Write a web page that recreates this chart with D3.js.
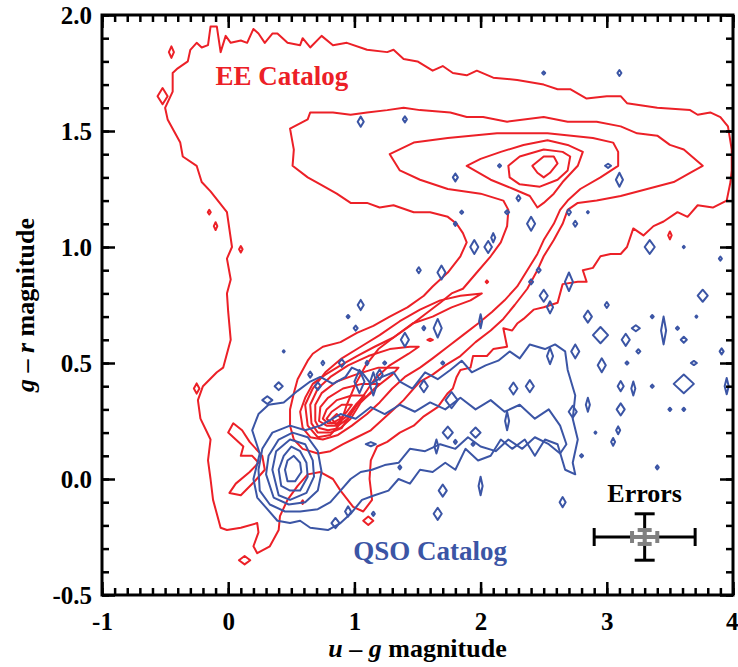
<!DOCTYPE html>
<html>
<head>
<meta charset="utf-8">
<script src="https://cdn.jsdelivr.net/npm/d3@7"></script>
<style>
  body { margin: 0; background: #fff; }
  svg { display: block; }
  text { font-family: "Liberation Serif", "Times New Roman", serif; font-weight: bold; }
</style>
</head>
<body>
<svg id="chart" width="738" height="667"></svg>
<script>
// ---- axes ----
const xDomain = [-1, 4];
const yDomain = [-0.5, 2.0];
const xMajorTicks = [-1, 0, 1, 2, 3, 4];
const yMajorTicks = [-0.5, 0.0, 0.5, 1.0, 1.5, 2.0];
const xTickLabels = ["-1", "0", "1", "2", "3", "4"];
const yTickLabels = ["-0.5", "0.0", "0.5", "1.0", "1.5", "2.0"];
const xMinorStep = 0.1;
const yMinorStep = 0.1;

// ---- EE catalog density contours, outermost to innermost, in (u-g, g-r) ----
const eeLevel1 = [[-0.14,0.00],[-0.16,0.08],[-0.14,0.17],[-0.22,0.26],[-0.24,0.34],[-0.20,0.40],[-0.09,0.46],[-0.04,0.48],[0.02,0.60],[0.00,0.72],[-0.01,0.80],[0.02,0.86],[-0.01,0.95],[0.03,1.00],[-0.01,1.15],[-0.14,1.24],[-0.21,1.28],[-0.25,1.35],[-0.36,1.39],[-0.38,1.45],[-0.48,1.55],[-0.50,1.60],[-0.44,1.67],[-0.44,1.75],[-0.40,1.77],[-0.32,1.80],[-0.30,1.85],[-0.25,1.88],[-0.21,1.86],[-0.16,1.87],[-0.14,1.95],[-0.09,1.95],[-0.06,1.84],[-0.02,1.91],[0.02,1.88],[0.10,1.89],[0.15,1.88],[0.20,1.94],[0.24,1.92],[0.29,1.88],[0.35,1.92],[0.39,1.92],[0.47,1.88],[0.57,1.87],[0.59,1.90],[0.65,1.86],[0.74,1.91],[0.83,1.87],[0.94,1.88],[1.10,1.85],[1.26,1.84],[1.31,1.85],[1.39,1.81],[1.50,1.80],[1.62,1.76],[1.70,1.78],[1.78,1.75],[1.89,1.74],[1.97,1.76],[2.10,1.73],[2.29,1.72],[2.50,1.70],[2.61,1.68],[2.71,1.68],[2.84,1.64],[3.00,1.65],[3.11,1.65],[3.16,1.62],[3.40,1.60],[3.66,1.59],[3.72,1.57],[3.82,1.58],[3.90,1.56],[3.96,1.52],[3.99,1.42],[3.99,1.33],[3.98,1.28],[3.95,1.20],[3.84,1.17],[3.72,1.18],[3.64,1.13],[3.56,1.15],[3.45,1.11],[3.37,1.09],[3.29,1.05],[3.21,1.08],[3.16,1.00],[3.11,0.97],[3.03,0.97],[2.95,0.96],[2.89,0.91],[2.81,0.90],[2.84,0.85],[2.77,0.85],[2.65,0.84],[2.61,0.76],[2.50,0.74],[2.42,0.73],[2.34,0.69],[2.29,0.67],[2.25,0.64],[2.18,0.65],[2.21,0.57],[2.10,0.56],[2.05,0.53],[1.94,0.53],[1.92,0.48],[1.84,0.47],[1.81,0.44],[1.78,0.39],[1.74,0.37],[1.66,0.31],[1.55,0.27],[1.47,0.23],[1.36,0.20],[1.26,0.16],[1.18,0.14],[1.13,0.08],[1.12,0.00],[1.14,-0.09],[1.07,-0.14],[0.99,-0.12],[0.89,-0.05],[0.83,0.00],[0.73,0.03],[0.63,0.02],[0.55,-0.03],[0.47,-0.09],[0.41,-0.16],[0.40,-0.22],[0.33,-0.29],[0.23,-0.32],[0.20,-0.29],[0.24,-0.23],[0.23,-0.19],[0.10,-0.21],[-0.01,-0.22],[-0.06,-0.21],[-0.12,-0.09]];

const eeLevel1b = [[0.04,0.24],[0.00,0.20],[0.06,0.17],[0.12,0.14],[0.10,0.10],[0.19,0.10],[0.24,0.07],[0.17,0.03],[0.06,-0.02],[0.01,-0.06],[0.10,-0.07],[0.21,-0.01],[0.29,0.04],[0.27,0.10],[0.17,0.16],[0.11,0.21]];

const eeLevel2 = [[0.49,1.51],[0.63,1.55],[0.65,1.58],[0.83,1.58],[0.97,1.57],[1.10,1.58],[1.26,1.59],[1.39,1.60],[1.52,1.59],[1.76,1.58],[1.89,1.56],[2.02,1.56],[2.21,1.54],[2.50,1.56],[2.69,1.54],[2.92,1.54],[3.11,1.52],[3.24,1.49],[3.40,1.48],[3.50,1.44],[3.61,1.42],[3.76,1.35],[3.66,1.32],[3.53,1.28],[3.32,1.25],[3.11,1.22],[2.92,1.20],[2.77,1.19],[2.69,1.16],[2.65,1.10],[2.58,1.03],[2.50,0.96],[2.45,0.90],[2.37,0.82],[2.27,0.75],[2.18,0.69],[2.08,0.64],[1.96,0.59],[1.84,0.53],[1.72,0.49],[1.62,0.45],[1.52,0.42],[1.47,0.39],[1.39,0.34],[1.31,0.30],[1.23,0.26],[1.13,0.21],[1.02,0.18],[0.91,0.15],[0.81,0.12],[0.71,0.11],[0.59,0.13],[0.52,0.17],[0.49,0.23],[0.49,0.30],[0.52,0.37],[0.55,0.43],[0.63,0.51],[0.67,0.54],[0.75,0.57],[0.89,0.59],[1.02,0.63],[1.15,0.66],[1.28,0.70],[1.42,0.74],[1.55,0.79],[1.62,0.83],[1.74,0.89],[1.84,0.96],[1.89,1.02],[1.86,1.06],[1.81,1.10],[1.74,1.13],[1.60,1.15],[1.47,1.15],[1.31,1.18],[1.20,1.17],[1.10,1.19],[0.97,1.19],[0.86,1.23],[0.73,1.27],[0.63,1.30],[0.51,1.35],[0.52,1.42]];

const eeLevel3 = [[1.28,1.40],[1.47,1.45],[1.74,1.47],[2.13,1.49],[2.53,1.49],[2.89,1.47],[3.05,1.45],[3.09,1.41],[3.09,1.35],[2.95,1.30],[2.79,1.25],[2.69,1.20],[2.63,1.16],[2.58,1.10],[2.50,1.03],[2.45,0.97],[2.37,0.90],[2.29,0.83],[2.19,0.77],[2.09,0.72],[1.98,0.67],[1.86,0.62],[1.74,0.57],[1.62,0.52],[1.52,0.48],[1.40,0.44],[1.30,0.39],[1.20,0.33],[1.10,0.28],[0.98,0.23],[0.87,0.19],[0.75,0.17],[0.65,0.18],[0.59,0.22],[0.57,0.29],[0.61,0.35],[0.67,0.41],[0.77,0.45],[0.89,0.49],[1.02,0.53],[1.16,0.57],[1.31,0.61],[1.44,0.66],[1.56,0.71],[1.68,0.76],[1.77,0.80],[1.86,0.82],[1.97,0.89],[2.08,0.96],[2.16,1.02],[2.21,1.09],[2.22,1.16],[2.18,1.20],[2.00,1.23],[1.74,1.25],[1.52,1.29],[1.36,1.33]];

const eeLevel4 = [[0.63,0.23],[0.61,0.32],[0.67,0.39],[0.77,0.46],[0.90,0.52],[1.05,0.57],[1.20,0.62],[1.36,0.68],[1.52,0.73],[1.68,0.77],[1.84,0.79],[2.01,0.80],[1.92,0.77],[1.77,0.74],[1.62,0.70],[1.46,0.67],[1.31,0.61],[1.19,0.56],[1.09,0.49],[1.01,0.41],[0.94,0.32],[0.89,0.24],[0.81,0.19],[0.71,0.18]];
const eeLevel4Upper = [[1.89,1.35],[2.00,1.38],[2.16,1.41],[2.34,1.44],[2.53,1.46],[2.69,1.44],[2.81,1.41],[2.77,1.35],[2.65,1.28],[2.58,1.23],[2.50,1.19],[2.45,1.17],[2.39,1.22],[2.26,1.25],[2.08,1.29]];

const eeLevel5 = [[0.66,0.24],[0.65,0.32],[0.71,0.39],[0.81,0.44],[0.95,0.49],[1.11,0.53],[1.28,0.56],[1.44,0.57],[1.51,0.57],[1.43,0.54],[1.28,0.49],[1.16,0.43],[1.06,0.35],[0.98,0.29],[0.90,0.22],[0.81,0.20],[0.71,0.20]];
const eeLevel5Upper = [[2.22,1.35],[2.31,1.39],[2.50,1.42],[2.65,1.41],[2.71,1.39],[2.69,1.33],[2.61,1.29],[2.47,1.26],[2.31,1.27],[2.23,1.30]];

const eeLevel6 = [[0.69,0.25],[0.69,0.32],[0.74,0.37],[0.86,0.42],[1.01,0.45],[1.19,0.48],[1.35,0.48],[1.30,0.45],[1.16,0.39],[1.05,0.33],[0.97,0.26],[0.89,0.22],[0.79,0.21],[0.72,0.22]];
const eeLevel6Upper = [[2.41,1.35],[2.50,1.39],[2.58,1.39],[2.61,1.36],[2.55,1.32],[2.50,1.30],[2.45,1.32]];

const eeLevel7 = [[0.72,0.25],[0.73,0.31],[0.79,0.35],[0.91,0.39],[1.06,0.41],[1.20,0.41],[1.13,0.37],[1.02,0.32],[0.95,0.26],[0.87,0.23],[0.78,0.23]];
const eeLevel8 = [[0.75,0.26],[0.78,0.30],[0.86,0.34],[0.98,0.36],[1.08,0.36],[1.01,0.32],[0.94,0.27],[0.86,0.24],[0.79,0.24]];
const eeLevel9 = [[0.78,0.26],[0.82,0.29],[0.90,0.32],[0.98,0.32],[0.94,0.29],[0.89,0.26],[0.82,0.24]];
const eeLevel10 = [[0.82,0.26],[0.86,0.28],[0.90,0.26],[0.86,0.23]];

// small isolated EE contour islands: centre u-g, centre g-r, half-width, half-height
const eeIslands = [[-0.45,1.84,0.02,0.025],[-0.52,1.65,0.04,0.035],[-0.15,1.15,0.012,0.01],[-0.10,1.09,0.014,0.017],[0.10,0.99,0.014,0.014],[3.50,1.05,0.014,0.017],[2.05,0.85,0.01,0.006],[1.60,0.60,0.022,0.005],[1.11,-0.18,0.04,0.018],[0.59,-0.10,0.01,0.008],[0.13,-0.35,0.045,0.018],[-0.25,0.39,0.022,0.022]];

// ---- QSO catalog density contours ----
const qsoLevel1 = [[0.19,0.21],[0.24,0.28],[0.32,0.32],[0.44,0.33],[0.55,0.38],[0.65,0.42],[0.73,0.44],[0.83,0.41],[0.93,0.44],[0.98,0.48],[1.06,0.46],[1.13,0.41],[1.22,0.44],[1.31,0.46],[1.36,0.42],[1.46,0.39],[1.56,0.46],[1.66,0.43],[1.76,0.47],[1.85,0.51],[1.93,0.46],[2.04,0.49],[2.14,0.51],[2.23,0.55],[2.31,0.52],[2.39,0.58],[2.51,0.56],[2.59,0.58],[2.67,0.55],[2.69,0.47],[2.75,0.36],[2.73,0.26],[2.77,0.17],[2.73,0.07],[2.75,0.02],[2.67,0.04],[2.61,0.15],[2.51,0.17],[2.43,0.10],[2.35,0.17],[2.25,0.13],[2.16,0.17],[2.08,0.10],[1.98,0.08],[1.88,0.13],[1.80,0.04],[1.72,0.07],[1.62,0.03],[1.52,0.04],[1.44,-0.02],[1.35,0.00],[1.27,-0.05],[1.16,-0.07],[1.06,-0.09],[0.97,-0.15],[0.89,-0.19],[0.79,-0.22],[0.65,-0.21],[0.57,-0.18],[0.49,-0.19],[0.39,-0.18],[0.31,-0.13],[0.23,-0.08],[0.20,0.00],[0.25,0.11]];
const qsoLevel2 = [[0.27,0.13],[0.35,0.20],[0.49,0.23],[0.61,0.21],[0.73,0.23],[0.89,0.28],[1.01,0.26],[1.13,0.31],[1.24,0.28],[1.36,0.32],[1.48,0.29],[1.60,0.33],[1.72,0.30],[1.84,0.35],[1.96,0.30],[2.08,0.34],[2.19,0.29],[2.31,0.32],[2.43,0.26],[2.54,0.30],[2.63,0.23],[2.68,0.15],[2.63,0.11],[2.54,0.15],[2.43,0.18],[2.33,0.13],[2.22,0.17],[2.12,0.12],[2.00,0.14],[1.90,0.18],[1.80,0.13],[1.68,0.15],[1.56,0.12],[1.44,0.13],[1.35,0.07],[1.24,0.06],[1.14,0.04],[1.05,0.03],[0.97,0.00],[0.89,-0.05],[0.81,-0.10],[0.71,-0.13],[0.57,-0.14],[0.45,-0.14],[0.33,-0.11],[0.25,-0.05],[0.24,0.04]];
const qsoLevel3 = [[0.30,0.02],[0.32,0.10],[0.40,0.17],[0.51,0.20],[0.63,0.18],[0.71,0.12],[0.74,0.03],[0.71,-0.05],[0.61,-0.10],[0.48,-0.11],[0.36,-0.08]];
const qsoLevel4 = [[0.35,0.04],[0.38,0.12],[0.49,0.17],[0.61,0.15],[0.67,0.08],[0.68,0.01],[0.62,-0.06],[0.49,-0.09],[0.40,-0.07]];
const qsoLevel5 = [[0.40,0.04],[0.44,0.10],[0.50,0.14],[0.57,0.12],[0.62,0.07],[0.63,0.01],[0.57,-0.05],[0.49,-0.05],[0.42,-0.03]];
const qsoLevel6 = [[0.45,0.04],[0.47,0.08],[0.52,0.10],[0.57,0.07],[0.58,0.03],[0.53,-0.01],[0.47,-0.01]];

// small isolated QSO contour islands: centre u-g, centre g-r, half-width, half-height
const qsoIslands = [[2.50,1.75,0.012,0.007],[3.10,1.75,0.016,0.013],[1.05,1.54,0.024,0.022],[1.40,1.55,0.016,0.013],[1.80,1.30,0.02,0.017],[2.15,1.35,0.012,0.007],[3.01,1.35,0.024,0.009],[3.10,1.29,0.028,0.03],[2.30,1.21,0.016,0.013],[1.85,1.15,0.012,0.007],[2.21,1.15,0.016,0.009],[1.80,1.10,0.012,0.009],[2.40,1.10,0.032,0.03],[2.70,1.15,0.016,0.013],[2.85,1.15,0.008,0.005],[2.75,1.10,0.016,0.013],[1.95,1.00,0.032,0.03],[2.06,1.00,0.03,0.026],[2.10,1.04,0.016,0.02],[3.34,1.00,0.04,0.03],[3.61,1.00,0.008,0.005],[3.90,0.95,0.012,0.009],[1.51,0.90,0.016,0.013],[1.69,0.89,0.032,0.03],[2.46,0.90,0.016,0.011],[2.40,0.85,0.016,0.011],[2.70,0.85,0.032,0.04],[3.76,0.79,0.04,0.026],[3.00,0.75,0.016,0.013],[2.50,0.79,0.032,0.026],[2.55,0.74,0.024,0.026],[1.05,0.75,0.024,0.022],[0.95,0.70,0.012,0.007],[1.01,0.65,0.016,0.011],[2.00,0.68,0.012,0.03],[2.85,0.70,0.032,0.026],[3.36,0.70,0.012,0.007],[3.45,0.64,0.02,0.06],[3.71,0.70,0.008,0.005],[3.56,0.65,0.012,0.007],[2.95,0.62,0.06,0.035],[3.15,0.60,0.032,0.026],[3.23,0.65,0.032,0.013],[3.61,0.60,0.024,0.013],[3.91,0.55,0.016,0.013],[3.25,0.55,0.016,0.009],[3.69,0.50,0.024,0.009],[3.16,0.50,0.012,0.007],[2.75,0.55,0.032,0.03],[2.96,0.49,0.032,0.03],[2.55,0.53,0.024,0.035],[1.66,0.65,0.032,0.04],[1.55,0.65,0.012,0.009],[1.40,0.60,0.032,0.03],[1.24,0.50,0.012,0.007],[1.70,0.50,0.012,0.007],[1.10,0.50,0.012,0.009],[0.75,0.50,0.012,0.009],[0.90,0.50,0.024,0.017],[0.44,0.55,0.008,0.005],[0.65,0.45,0.016,0.013],[0.40,0.40,0.032,0.017],[0.71,0.40,0.024,0.017],[0.31,0.34,0.04,0.017],[3.36,0.40,0.012,0.007],[3.11,0.40,0.024,0.022],[3.21,0.39,0.016,0.03],[3.61,0.41,0.08,0.04],[3.95,0.40,0.016,0.035],[3.61,0.30,0.012,0.007],[3.50,0.30,0.012,0.007],[3.11,0.30,0.032,0.026],[2.85,0.32,0.016,0.03],[2.73,0.29,0.032,0.026],[2.39,0.40,0.032,0.026],[2.26,0.39,0.032,0.026],[1.55,0.40,0.032,0.026],[1.77,0.34,0.048,0.035],[2.21,0.25,0.016,0.04],[3.09,0.21,0.016,0.017],[3.05,0.16,0.016,0.017],[2.91,0.20,0.008,0.005],[3.40,0.05,0.012,0.009],[2.65,-0.10,0.024,0.022],[2.00,-0.03,0.016,0.04],[1.70,-0.05,0.032,0.026],[1.66,-0.15,0.032,0.026],[1.36,0.05,0.012,0.009],[1.74,0.20,0.04,0.026],[1.96,0.20,0.04,0.022],[1.80,0.16,0.012,0.009],[1.94,0.15,0.012,0.007],[1.65,0.14,0.016,0.03],[1.13,0.15,0.04,0.009],[1.15,-0.15,0.012,0.009],[0.95,-0.14,0.024,0.022],[0.85,-0.19,0.032,0.022],[2.80,0.10,0.012,0.007],[1.04,0.42,0.04,0.05],[1.15,0.41,0.03,0.05],[1.20,0.45,0.024,0.022]];

// error bars: typical uncertainties (black) and a smaller set (grey)
const errCentre = [3.3, -0.25];
const errLarge = { du: 0.4, dv: 0.1 };
const errSmall = { du: 0.1, dv: 0.03 };

// ---- layout ----
const W = 738, H = 667;
const margin = { left: 102, right: 5, top: 15, bottom: 72 };
const RED = "#ec2027", BLUE = "#3b55a5";

const svg = d3.select("#chart");
const x = d3.scaleLinear().domain(xDomain).range([margin.left, W - margin.right]);
const y = d3.scaleLinear().domain(yDomain).range([H - margin.bottom, margin.top]);

svg.append("defs").append("clipPath").attr("id", "plotClip")
  .append("rect")
  .attr("x", x(xDomain[0])).attr("y", y(yDomain[1]))
  .attr("width", x(xDomain[1]) - x(xDomain[0]))
  .attr("height", y(yDomain[0]) - y(yDomain[1]));

const plot = svg.append("g").attr("clip-path", "url(#plotClip)");

const ring = d3.line().x(d => x(d[0])).y(d => y(d[1])).curve(d3.curveLinearClosed);

function drawContours(levels, colour) {
  plot.append("g")
    .selectAll("path")
    .data(levels)
    .join("path")
    .attr("d", ring)
    .attr("fill", "none")
    .attr("stroke", colour)
    .attr("stroke-width", 2)
    .attr("stroke-linejoin", "round");
}

function drawIslands(islands, colour) {
  plot.append("g")
    .selectAll("path")
    .data(islands)
    .join("path")
    .attr("d", d => ring([[d[0] - d[2], d[1]], [d[0], d[1] + d[3]], [d[0] + d[2], d[1]], [d[0], d[1] - d[3]]]))
    .attr("fill", "none")
    .attr("stroke", colour)
    .attr("stroke-width", 2)
    .attr("stroke-linejoin", "round");
}

drawContours([eeLevel1, eeLevel1b, eeLevel2, eeLevel3, eeLevel4, eeLevel4Upper, eeLevel5, eeLevel5Upper,
  eeLevel6, eeLevel6Upper, eeLevel7, eeLevel8, eeLevel9, eeLevel10], RED);
drawIslands(eeIslands, RED);
drawContours([qsoLevel1, qsoLevel2, qsoLevel3, qsoLevel4, qsoLevel5, qsoLevel6], BLUE);
drawIslands(qsoIslands, BLUE);

// ---- error bars ----
const eb = svg.append("g");
function errorCross(e, colour, width, capX, capY) {
  const [cu, cv] = errCentre;
  const segs = [
    [[x(cu - e.du), y(cv)], [x(cu + e.du), y(cv)]],
    [[x(cu), y(cv - e.dv)], [x(cu), y(cv + e.dv)]],
    [[x(cu - e.du), y(cv) - capX], [x(cu - e.du), y(cv) + capX]],
    [[x(cu + e.du), y(cv) - capX], [x(cu + e.du), y(cv) + capX]],
    [[x(cu) - capY, y(cv - e.dv)], [x(cu) + capY, y(cv - e.dv)]],
    [[x(cu) - capY, y(cv + e.dv)], [x(cu) + capY, y(cv + e.dv)]]
  ];
  eb.append("g").selectAll("line").data(segs).join("line")
    .attr("x1", d => d[0][0]).attr("y1", d => d[0][1])
    .attr("x2", d => d[1][0]).attr("y2", d => d[1][1])
    .attr("stroke", colour).attr("stroke-width", width);
}
errorCross(errLarge, "#000", 3, 9, 10);
errorCross(errSmall, "#808080", 4, 6, 7);

// ---- annotations ----
svg.append("text").attr("x", x(-0.1)).attr("y", y(1.70))
  .attr("fill", RED).attr("font-size", 27).text("EE Catalog");
svg.append("text").attr("x", x(0.99)).attr("y", y(-0.35))
  .attr("fill", BLUE).attr("font-size", 27).text("QSO Catalog");
svg.append("text").attr("x", x(3.3)).attr("y", y(-0.10))
  .attr("text-anchor", "middle").attr("fill", "#000").attr("font-size", 26).text("Errors");

// ---- axes: ticks drawn inward on all four sides ----
const xMinor = d3.range(xDomain[0], xDomain[1] + 1e-9, xMinorStep);
const yMinor = d3.range(yDomain[0], yDomain[1] + 1e-9, yMinorStep);
const fmtX = d => xTickLabels[xMajorTicks.indexOf(d)];
const fmtY = d => yTickLabels[yMajorTicks.findIndex(t => Math.abs(t - d) < 1e-9)];

function styleAxis(g) {
  g.select(".domain").remove();
  g.selectAll("line").attr("stroke", "#000").attr("stroke-width", 2.5);
  g.selectAll("text").attr("font-size", 25).attr("fill", "#000")
    .attr("font-family", "'Liberation Serif','Times New Roman',serif").attr("font-weight", "bold");
}

const yB = y(yDomain[0]), yT = y(yDomain[1]), xL = x(xDomain[0]), xR = x(xDomain[1]);

svg.append("g").attr("transform", `translate(0,${yB})`)
  .call(d3.axisBottom(x).tickValues(xMinor).tickSize(-7).tickFormat("")).call(styleAxis);
const xLabelled = svg.append("g").attr("transform", `translate(0,${yB})`)
  .call(d3.axisBottom(x).tickValues(xMajorTicks).tickSize(-13).tickPadding(17).tickFormat(fmtX)).call(styleAxis);
// keep the last label inside the page edge
xLabelled.selectAll("text").filter(d => d === xDomain[1]).attr("text-anchor", "end").attr("dx", 5);
svg.append("g").attr("transform", `translate(0,${yT})`)
  .call(d3.axisTop(x).tickValues(xMinor).tickSize(-7).tickFormat("")).call(styleAxis);
svg.append("g").attr("transform", `translate(0,${yT})`)
  .call(d3.axisTop(x).tickValues(xMajorTicks).tickSize(-13).tickFormat("")).call(styleAxis);

svg.append("g").attr("transform", `translate(${xL},0)`)
  .call(d3.axisLeft(y).tickValues(yMinor).tickSize(-7).tickFormat("")).call(styleAxis);
svg.append("g").attr("transform", `translate(${xL},0)`)
  .call(d3.axisLeft(y).tickValues(yMajorTicks).tickSize(-13).tickPadding(10).tickFormat(fmtY)).call(styleAxis);
svg.append("g").attr("transform", `translate(${xR},0)`)
  .call(d3.axisRight(y).tickValues(yMinor).tickSize(-7).tickFormat("")).call(styleAxis);
svg.append("g").attr("transform", `translate(${xR},0)`)
  .call(d3.axisRight(y).tickValues(yMajorTicks).tickSize(-13).tickFormat("")).call(styleAxis);

svg.append("rect").attr("x", xL).attr("y", yT).attr("width", xR - xL).attr("height", yB - yT)
  .attr("fill", "none").attr("stroke", "#000").attr("stroke-width", 3);

// ---- axis titles ----
const xTitle = svg.append("text").attr("x", (xL + xR) / 2 + 0).attr("y", 657)
  .attr("text-anchor", "middle").attr("font-size", 26).attr("fill", "#000");
xTitle.append("tspan").attr("font-style", "italic").text("u");
xTitle.append("tspan").text(" \u2013 ");
xTitle.append("tspan").attr("font-style", "italic").text("g");
xTitle.append("tspan").text(" magnitude");

const yTitle = svg.append("text").attr("transform", `translate(34,${(yT + yB) / 2}) rotate(-90)`)
  .attr("text-anchor", "middle").attr("font-size", 26).attr("fill", "#000");
yTitle.append("tspan").attr("font-style", "italic").text("g");
yTitle.append("tspan").text(" \u2013 ");
yTitle.append("tspan").attr("font-style", "italic").text("r");
yTitle.append("tspan").text(" magnitude");
</script>
</body>
</html>
